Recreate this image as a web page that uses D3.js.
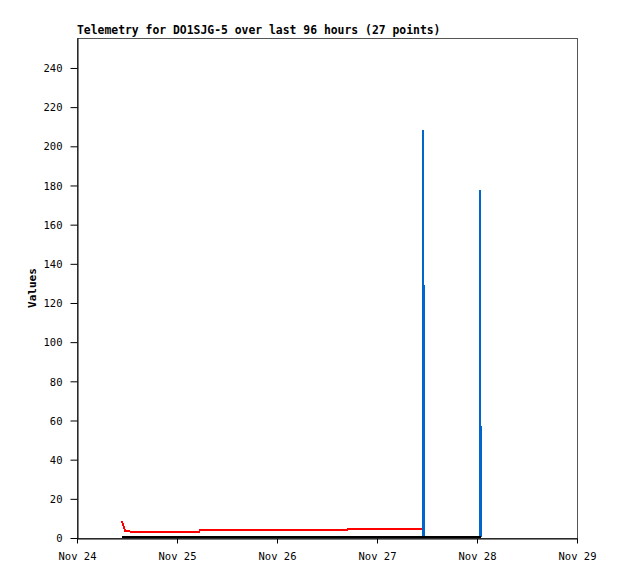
<!DOCTYPE html>
<html>
<head>
<meta charset="UTF-8" />
<title>Telemetry</title>
<style>
  body { margin: 0; background: #fff; }
  .title { font: bold 11.4px "DejaVu Sans Mono", monospace; }
  .ylabel { font: bold 11px "DejaVu Sans Mono", monospace; }
  .axis text { font: 10.5px "DejaVu Sans Mono", monospace; fill: #000; }
  .axis path, .axis line { stroke: #000; }
  .line { fill: none; stroke-width: 2px; stroke-linejoin: miter; }
</style>
<script src="https://d3js.org/d3.v7.min.js"></script>
</head>
<body>
<script>
// hours after Nov 24 00:00
var hours = [10.7, 11.4, 14, 18, 22, 26, 29.2, 29.4, 34, 40, 46, 52, 58, 64.9, 65.1, 72, 78, 82.9,
             83.05, 83.05, 83.3, 83.3, 90, 96.72, 96.72, 96.96, 96.96];
var redVals = [8, 3, 2.8, 2.8, 2.8, 2.8, 2.8, 3.5, 3.5, 3.5, 3.5, 3.5, 3.5, 3.5, 4, 4, 4, 4,
               null, null, null, null, null, null, null, null, null];
var blueVals = [null, null, null, null, null, null, null, null, null, null, null, null, null, null, null, null, null, null,
                0, 208, 128, 0, null, 0, 177, 56, 0];
var blackVals = hours.map(function() { return 0; });
var xTickLabels = ["Nov 24", "Nov 25", "Nov 26", "Nov 27", "Nov 28", "Nov 29"];
var yTicks = [0, 20, 40, 60, 80, 100, 120, 140, 160, 180, 200, 220, 240];

var width = 618, height = 579;
var margin = {top: 38, right: 41, bottom: 41, left: 77};
var start = new Date(2023, 10, 24);

var svg = d3.select("body").append("svg")
    .attr("width", width)
    .attr("height", height);

var x = d3.scaleTime()
    .domain([start, d3.timeDay.offset(start, 5)])
    .range([margin.left, width - margin.right]);

var y = d3.scaleLinear()
    .domain([0, 255.3])
    .range([height - margin.bottom, margin.top]);

function toDate(h) { return new Date(start.getTime() + h * 3600000); }

// frame
svg.append("rect")
    .attr("x", margin.left + 0.5)
    .attr("y", margin.top + 0.5)
    .attr("width", x.range()[1] - x.range()[0])
    .attr("height", y.range()[0] - y.range()[1])
    .attr("fill", "none")
    .attr("stroke", "#555");

var series = [
  {vals: redVals, color: "#ff0000", curve: d3.curveLinear},
  {vals: blueVals, color: "#0066cc", curve: d3.curveStepBefore},
  {vals: blackVals, color: "#000000", curve: d3.curveLinear}
];

series.forEach(function(s) {
  var line = d3.line()
      .defined(function(d) { return d != null; })
      .curve(s.curve)
      .x(function(d, i) { return Math.round(x(toDate(hours[i]))); })
      .y(function(d) { return Math.round(y(d)) - 1; });
  svg.append("path")
      .attr("class", "line")
      .attr("stroke", s.color)
      .attr("shape-rendering", "crispEdges")
      .attr("d", line(s.vals));
});

var xAxis = svg.append("g")
    .attr("class", "axis")
    .attr("transform", "translate(0," + (y(0) + 0.5) + ")")
    .call(d3.axisBottom(x)
      .tickValues(xTickLabels.map(function(d, i) { return d3.timeDay.offset(start, i); }))
      .tickFormat(function(d, i) { return xTickLabels[i]; })
      .tickSize(5).tickSizeOuter(0).tickPadding(9));

var yAxis = svg.append("g")
    .attr("class", "axis")
    .attr("transform", "translate(" + (margin.left + 0.5) + ",0)")
    .call(d3.axisLeft(y)
      .tickValues(yTicks)
      .tickSize(7).tickSizeOuter(0).tickPadding(8));
yAxis.selectAll("text").attr("dy", "0.35em");

svg.append("text")
    .attr("class", "title")
    .attr("x", margin.left)
    .attr("y", 34)
    .text("Telemetry for DO1SJG-5 over last 96 hours (27 points)");

svg.append("text")
    .attr("class", "ylabel")
    .attr("transform", "translate(36," + 288 + ")rotate(-90)")
    .attr("text-anchor", "middle")
    .text("Values");
</script>
</body>
</html>
